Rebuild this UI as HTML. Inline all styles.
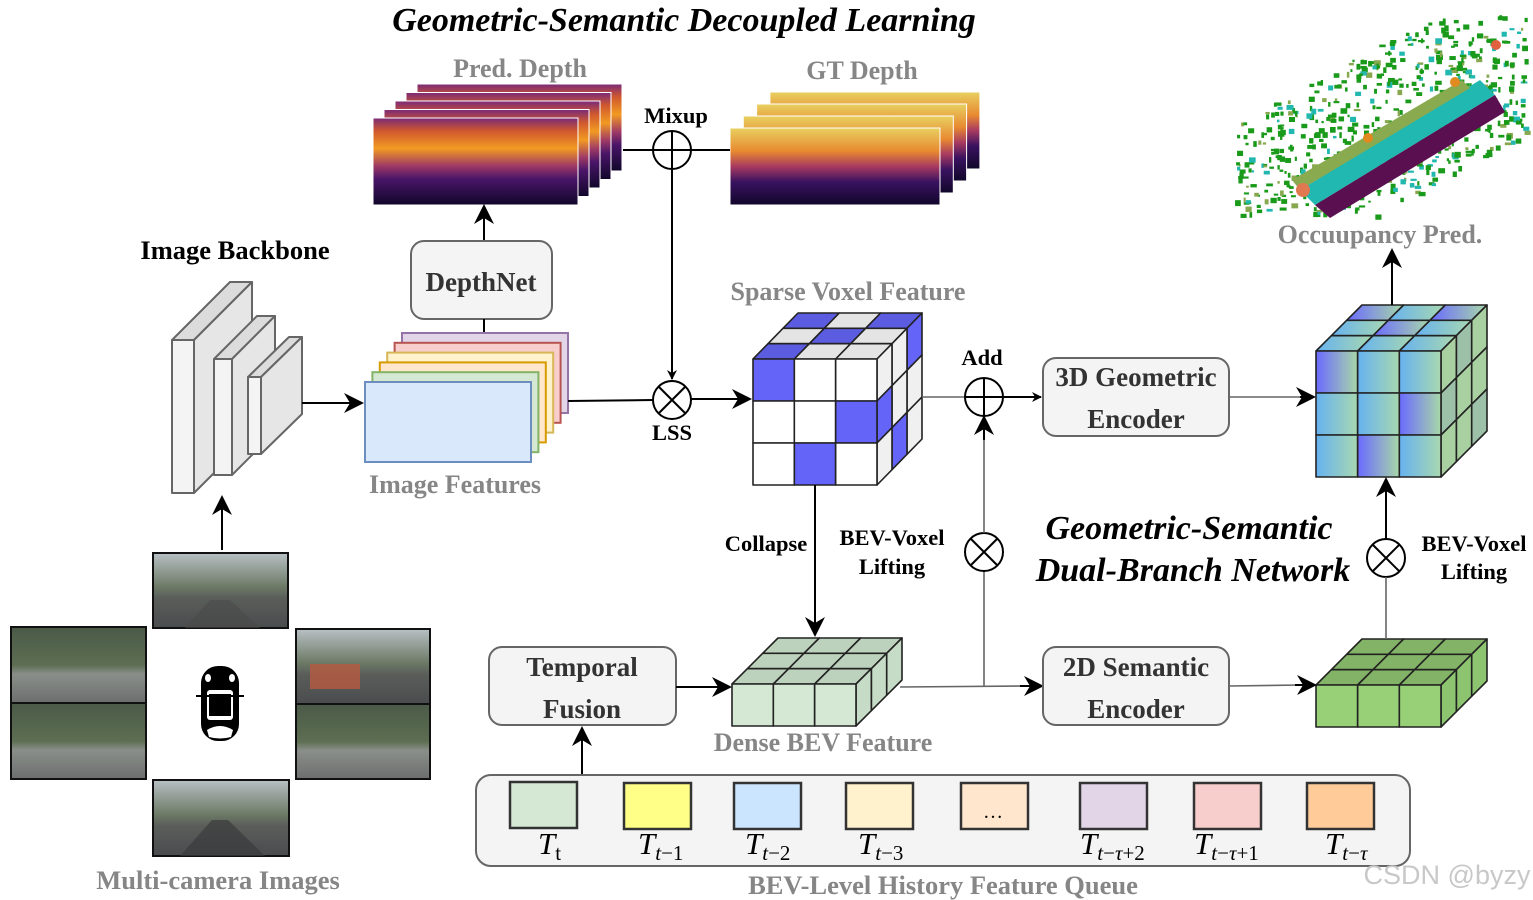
<!DOCTYPE html>
<html><head><meta charset="utf-8">
<style>
html,body{margin:0;padding:0;background:#fff;}
svg{display:block;}
.lb{font-family:"Liberation Serif",serif;font-weight:bold;}
.gray{fill:#868686;}
.bx{fill:#f4f4f4;stroke:#666;stroke-width:2;}
.bt{font-family:"Liberation Serif",serif;font-weight:bold;font-size:27px;fill:#333;text-anchor:middle;}
.ln{stroke:#000;stroke-width:2;fill:none;}
.lg{stroke:#666;stroke-width:1.6;fill:none;}
.tm{font-family:"Liberation Serif",serif;font-style:italic;font-size:31px;fill:#000;}
.sub{font-family:"Liberation Serif",serif;font-size:21px;font-style:normal;}
</style></head><body>
<svg id="s" width="1533" height="900" viewBox="0 0 1533 900" xmlns="http://www.w3.org/2000/svg">
<defs>
<marker id="a" viewBox="0 0 10 10" refX="9" refY="5" markerWidth="10" markerHeight="10" markerUnits="userSpaceOnUse" orient="auto"><path d="M0,0 L10,5 L0,10 L3,5 z" fill="#000"/></marker>
<marker id="A" viewBox="0 0 10 10" refX="9" refY="5" markerWidth="20" markerHeight="20" markerUnits="userSpaceOnUse" orient="auto"><path d="M0,0 L10,5 L0,10 L3,5 z" fill="#000"/></marker>
<linearGradient id="pd" x1="0" y1="0" x2="0" y2="1">
<stop offset="0" stop-color="#7a2a78"/><stop offset="0.15" stop-color="#d0582e"/><stop offset="0.35" stop-color="#f29a22"/><stop offset="0.55" stop-color="#a03a66"/><stop offset="0.7" stop-color="#4a1568"/><stop offset="1" stop-color="#10062a"/></linearGradient>
<linearGradient id="gd" x1="0" y1="0" x2="0" y2="1">
<stop offset="0" stop-color="#e8d060"/><stop offset="0.3" stop-color="#e88a30"/><stop offset="0.5" stop-color="#a83a60"/><stop offset="0.7" stop-color="#3a1260"/><stop offset="1" stop-color="#10062a"/></linearGradient>
<linearGradient id="gp" x1="0" y1="0" x2="1" y2="0"><stop offset="0" stop-color="#6a6aff"/><stop offset="1" stop-color="#a8d8a8"/></linearGradient>
<linearGradient id="gs" x1="0" y1="0" x2="1" y2="0"><stop offset="0" stop-color="#66b2f0"/><stop offset="1" stop-color="#a8d8b0"/></linearGradient>
<linearGradient id="cam" x1="0" y1="0" x2="0" y2="1"><stop offset="0" stop-color="#4a5a48"/><stop offset="0.5" stop-color="#5d6e52"/><stop offset="0.62" stop-color="#8a8f8a"/><stop offset="1" stop-color="#6c6e6e"/></linearGradient>
<linearGradient id="cam2" x1="0" y1="0" x2="0" y2="1"><stop offset="0" stop-color="#b8c0c4"/><stop offset="0.45" stop-color="#6d7a66"/><stop offset="0.6" stop-color="#5a5e5a"/><stop offset="1" stop-color="#4a4c4e"/></linearGradient>
</defs>

<text x="684" y="31" text-anchor="middle" font-family="Liberation Serif" font-weight="bold" font-style="italic" font-size="34">Geometric-Semantic Decoupled Learning</text>
<text x="520" y="77" text-anchor="middle" class="lb gray" font-size="26">Pred. Depth</text>
<text x="862" y="79" text-anchor="middle" class="lb gray" font-size="26">GT Depth</text>
<g id="depth"></g>

<line class="ln" x1="623" y1="150" x2="730" y2="150"/>
<circle cx="672" cy="150" r="19" fill="#fff" stroke="#000" stroke-width="2"/>
<line class="ln" x1="653" y1="150" x2="691" y2="150"/><line class="ln" x1="672" y1="131" x2="672" y2="169"/>
<text x="676" y="123" text-anchor="middle" class="lb" font-size="22.5">Mixup</text>
<line class="ln" x1="672" y1="169" x2="672" y2="379" marker-end="url(#a)"/>

<line class="ln" x1="484" y1="240" x2="484" y2="206" marker-end="url(#A)"/>
<rect class="bx" x="411" y="241" width="141" height="78" rx="13"/>
<text class="bt" x="481" y="291">DepthNet</text>
<line class="ln" x1="484" y1="319" x2="484" y2="334"/>

<g id="feat"></g>
<text x="455" y="493" text-anchor="middle" class="lb gray" font-size="26">Image Features</text>

<text x="235" y="259" text-anchor="middle" class="lb" font-size="26.5">Image Backbone</text>
<g stroke="#666" stroke-width="2" stroke-linejoin="round">
<polygon points="172,340 230,282 252,282 194,340" fill="#dcdcdc"/>
<polygon points="194,340 252,282 252,435 194,493" fill="#e6e6e6"/>
<rect x="172" y="340" width="22" height="153" fill="#f4f4f4"/>
<polygon points="214,359 257,316 275,316 232,359" fill="#dcdcdc"/>
<polygon points="232,359 275,316 275,432 232,475" fill="#e6e6e6"/>
<rect x="214" y="359" width="18" height="116" fill="#f4f4f4"/>
<polygon points="248,377 289,337 302,337 261,377" fill="#dcdcdc"/>
<polygon points="261,377 302,337 302,414 261,454" fill="#e6e6e6"/>
<rect x="248" y="377" width="13" height="77" fill="#f4f4f4"/>
</g>
<line class="ln" x1="302" y1="403" x2="362" y2="403" marker-end="url(#A)"/>
<line class="ln" x1="222" y1="550" x2="222" y2="497" marker-end="url(#A)"/>

<g stroke="#111" stroke-width="2">
<rect x="153" y="553" width="135" height="75" fill="url(#cam2)"/>
<rect x="11" y="627" width="135" height="76" fill="url(#cam)"/>
<rect x="11" y="703" width="135" height="76" fill="url(#cam)"/>
<rect x="296" y="629" width="134" height="75" fill="url(#cam2)"/>
<rect x="296" y="704" width="134" height="75" fill="url(#cam)"/>
<rect x="153" y="780" width="136" height="76" fill="url(#cam2)"/>
</g>
<polygon points="185,628 210,600 230,600 260,628" fill="#4a4a4a" opacity="0.6"/>
<polygon points="180,856 212,820 228,820 265,856" fill="#3a3a3c" opacity="0.7"/>
<rect x="310" y="664" width="50" height="25" fill="#b85a40" opacity="0.8"/>
<g>
<rect x="201" y="666" width="38" height="75" rx="17" fill="#000"/>
<rect x="207" y="690" width="26" height="30" fill="#fff" rx="3"/>
<rect x="209" y="694" width="22" height="22" fill="#000"/>
<ellipse cx="208" cy="678" rx="3" ry="4" fill="#fff"/><ellipse cx="232" cy="678" rx="3" ry="4" fill="#fff"/>
<path d="M207 730 Q220 722 233 730 L231 737 Q220 740 209 737z" fill="#fff"/>
<line x1="196" y1="696" x2="244" y2="696" stroke="#000" stroke-width="2"/>
</g>
<text x="218" y="889" text-anchor="middle" class="lb gray" font-size="26.5">Multi-camera Images</text>

<line class="ln" x1="568" y1="401" x2="653" y2="400"/>
<circle cx="672" cy="400" r="19" fill="#fff" stroke="#000" stroke-width="2"/>
<line class="ln" x1="659" y1="387" x2="685" y2="413"/><line class="ln" x1="685" y1="387" x2="659" y2="413"/>
<text x="672" y="440" text-anchor="middle" class="lb" font-size="22.5">LSS</text>
<line class="ln" x1="691" y1="399" x2="750" y2="399" marker-end="url(#A)"/>

<text x="848" y="300" text-anchor="middle" class="lb gray" font-size="26">Sparse Voxel Feature</text>
<g id="cubes"></g>

<line class="lg" x1="922" y1="397" x2="965" y2="397"/>
<circle cx="984" cy="397" r="19" fill="#fff" stroke="#000" stroke-width="2"/>
<line class="ln" x1="965" y1="397" x2="1003" y2="397"/><line class="ln" x1="984" y1="378" x2="984" y2="416"/>
<text x="982" y="365" text-anchor="middle" class="lb" font-size="22.5">Add</text>
<line class="ln" x1="1003" y1="397" x2="1041" y2="397" marker-end="url(#a)"/>
<rect class="bx" x="1043" y="358" width="186" height="78" rx="13"/>
<text class="bt" x="1136" y="386">3D Geometric</text>
<text class="bt" x="1136" y="428">Encoder</text>
<line class="lg" x1="1229" y1="397" x2="1312" y2="397"/>
<line class="ln" x1="1300" y1="397" x2="1314" y2="397" marker-end="url(#A)"/>

<line class="lg" x1="984" y1="687" x2="984" y2="571"/>
<circle cx="984" cy="552" r="19" fill="#fff" stroke="#000" stroke-width="2"/>
<line class="ln" x1="971" y1="539" x2="997" y2="565"/><line class="ln" x1="997" y1="539" x2="971" y2="565"/>
<line class="lg" x1="984" y1="533" x2="984" y2="430"/>
<line class="ln" x1="984" y1="440" x2="984" y2="417" marker-end="url(#A)"/>
<text x="892" y="545" text-anchor="middle" class="lb" font-size="22.5">BEV-Voxel</text>
<text x="892" y="574" text-anchor="middle" class="lb" font-size="22.5">Lifting</text>
<text x="766" y="551" text-anchor="middle" class="lb" font-size="22.5">Collapse</text>
<line class="ln" x1="815" y1="485" x2="815" y2="635" marker-end="url(#A)"/>

<text x="1189" y="539" text-anchor="middle" font-family="Liberation Serif" font-weight="bold" font-style="italic" font-size="34">Geometric-Semantic</text>
<text x="1193" y="581" text-anchor="middle" font-family="Liberation Serif" font-weight="bold" font-style="italic" font-size="34">Dual-Branch Network</text>

<line class="ln" x1="1392" y1="305" x2="1392" y2="250" marker-end="url(#A)"/>
<text x="1380" y="243" text-anchor="middle" class="lb gray" font-size="26">Occuupancy Pred.</text>
<line class="ln" x1="1386" y1="539" x2="1386" y2="479" marker-end="url(#A)"/>
<circle cx="1386" cy="558" r="19" fill="#fff" stroke="#000" stroke-width="2"/>
<line class="ln" x1="1373" y1="545" x2="1399" y2="571"/><line class="ln" x1="1399" y1="545" x2="1373" y2="571"/>
<line class="lg" x1="1386" y1="577" x2="1386" y2="639"/>
<text x="1474" y="551" text-anchor="middle" class="lb" font-size="22.5">BEV-Voxel</text>
<text x="1474" y="579" text-anchor="middle" class="lb" font-size="22.5">Lifting</text>
<g id="occ"></g>

<rect class="bx" x="489" y="647" width="187" height="78" rx="13"/>
<text class="bt" x="582" y="676">Temporal</text>
<text class="bt" x="582" y="718">Fusion</text>
<line class="ln" x1="676" y1="687" x2="730" y2="687" marker-end="url(#A)"/>
<line class="lg" x1="900" y1="687" x2="1030" y2="686"/>
<line class="ln" x1="1020" y1="686" x2="1042" y2="686" marker-end="url(#A)"/>
<text x="823" y="751" text-anchor="middle" class="lb gray" font-size="26">Dense BEV Feature</text>
<rect class="bx" x="1043" y="647" width="186" height="78" rx="13"/>
<text class="bt" x="1136" y="676">2D Semantic</text>
<text class="bt" x="1136" y="718">Encoder</text>
<line class="lg" x1="1229" y1="686" x2="1300" y2="685"/>
<line class="ln" x1="1295" y1="685" x2="1315" y2="685" marker-end="url(#A)"/>

<line class="ln" x1="582" y1="775" x2="582" y2="728" marker-end="url(#A)"/>
<rect class="bx" x="476" y="775" width="934" height="91" rx="15"/>
<g stroke="#333" stroke-width="2.5">
<rect x="510" y="782" width="67" height="46" fill="#d5e8d4"/>
<rect x="624" y="783" width="67" height="46" fill="#ffff88"/>
<rect x="734" y="783" width="67" height="46" fill="#cce5ff"/>
<rect x="846" y="783" width="67" height="46" fill="#fff2cc"/>
<rect x="961" y="783" width="67" height="46" fill="#ffe6cc"/>
<rect x="1080" y="783" width="67" height="46" fill="#e1d5e7"/>
<rect x="1194" y="783" width="67" height="46" fill="#f8cecc"/>
<rect x="1307" y="783" width="67" height="46" fill="#ffcc99"/>
</g>
<text x="993" y="818" text-anchor="middle" font-family="Liberation Serif" font-size="20">…</text>
<g class="tm">
<text x="538" y="854">T<tspan class="sub" dy="6" font-style="italic">t</tspan></text>
<text x="638" y="854">T<tspan class="sub" dy="6"><tspan font-style="italic">t</tspan>−1</tspan></text>
<text x="745" y="854">T<tspan class="sub" dy="6"><tspan font-style="italic">t</tspan>−2</tspan></text>
<text x="858" y="854">T<tspan class="sub" dy="6"><tspan font-style="italic">t</tspan>−3</tspan></text>
<text x="1080" y="854">T<tspan class="sub" dy="6"><tspan font-style="italic">t</tspan>−<tspan font-style="italic">τ</tspan>+2</tspan></text>
<text x="1194" y="854">T<tspan class="sub" dy="6"><tspan font-style="italic">t</tspan>−<tspan font-style="italic">τ</tspan>+1</tspan></text>
<text x="1325" y="854">T<tspan class="sub" dy="6"><tspan font-style="italic">t</tspan>−<tspan font-style="italic">τ</tspan></tspan></text>
</g>
<text x="943" y="894" text-anchor="middle" class="lb gray" font-size="26.5">BEV-Level History Feature Queue</text>
<text x="1447" y="884" text-anchor="middle" font-family="Liberation Sans" font-size="27" fill="#c8c8c8">CSDN @byzy</text>
</svg>
<script>
(function(){
var NS="http://www.w3.org/2000/svg";
function el(p,t,a){var e=document.createElementNS(NS,t);for(var k in a)e.setAttribute(k,a[k]);p.appendChild(e);return e;}
var D=document.getElementById("depth");
for(var i=4;i>=0;i--){el(D,"rect",{x:373+i*11,y:118-i*8.5,width:205,height:87,fill:"url(#pd)",stroke:"#fff","stroke-width":1});}
for(var i=3;i>=0;i--){el(D,"rect",{x:730+i*13.3,y:128-i*12,width:210,height:77,fill:"url(#gd)",stroke:"#fff","stroke-width":1});}
var F=document.getElementById("feat");
var fc=[["#e1d5e7","#9673a6"],["#f8cecc","#b85450"],["#fff2cc","#d6b656"],["#ffe6cc","#d79b00"],["#d5e8d4","#82b366"],["#dae8fc","#6c8ebf"]];
for(var i=0;i<6;i++){var k=5-i;el(F,"rect",{x:365+k*7.4,y:382-k*9.8,width:166,height:80,fill:fc[i][0],stroke:fc[i][1],"stroke-width":2});}
var C=document.getElementById("cubes");
function cube(x,y,w,h,nx,ny,nz,dx,dy,ff,tf,sf){
 var cw=w/nx,ch=h/ny,ex=dx/nz,ey=dy/nz;
 function P(pts,f){el(C,"polygon",{points:pts.map(function(p){return p[0]+","+p[1]}).join(" "),fill:f,stroke:"#222","stroke-width":1.6,"stroke-linejoin":"round"});}
 for(var k=nz-1;k>=0;k--)for(var i=0;i<nx;i++){var bx=x+i*cw+k*ex,by=y+k*ey;P([[bx,by],[bx+cw,by],[bx+cw+ex,by+ey],[bx+ex,by+ey]],tf(i,k));}
 for(var k=nz-1;k>=0;k--)for(var j=0;j<ny;j++){var bx=x+w+k*ex,by=y+j*ch+k*ey;P([[bx,by],[bx+ex,by+ey],[bx+ex,by+ey+ch],[bx,by+ch]],sf(j,k));}
 for(var j=0;j<ny;j++)for(var i=0;i<nx;i++){P([[x+i*cw,y+j*ch],[x+(i+1)*cw,y+j*ch],[x+(i+1)*cw,y+(j+1)*ch],[x+i*cw,y+(j+1)*ch]],ff(i,j));}
}
var B="#6464f8",BT="#5c5ce0",L="#e4e4e4",W="#fff",S="#f0f0f0";
var fr=[[B,W,W],[W,W,B],[W,B,W]],tp=[[B,L,L],[L,B,L],[B,L,B]],sd=[[S,B,S],[S,S,B],[B,S,S]];
cube(753,359,124,126,3,3,3,45,-46,function(i,j){return fr[j][i]},function(i,k){return tp[k][i]==B?BT:L},function(j,k){return sd[k][j]});
cube(732,684,124,42,3,1,3,46,-46,function(){return "#d5e8d4"},function(){return "#bdd2bc"},function(){return "#c7dcc6"});
cube(1316,685,125,42,3,1,3,46,-46,function(){return "#97d077"},function(){return "#82b366"},function(){return "#8cc470"});
var gf=[["url(#gp)","url(#gs)","url(#gs)"],["url(#gs)","url(#gs)","url(#gp)"],["url(#gs)","url(#gp)","url(#gs)"]];
var gt=[["url(#gs)","url(#gs)","url(#gs)"],["url(#gs)","url(#gp)","url(#gs)"],["url(#gp)","url(#gs)","url(#gp)"]];
cube(1316,351,125,126,3,3,3,46,-46,function(i,j){return gf[j][i]},function(i,k){return gt[k][i]},function(j,k){return (j+k)%3==1?"#9cc0a8":"#a8d0a0"});
var O=document.getElementById("occ");
var sd2=7;function r(){sd2=(sd2*9301+49297)%233280;return sd2/233280;}
for(var n=0;n<900;n++){var t=r(),u=r();var px=1235+t*290,py=15+u*200;
 var dl=(py-(200-(px-1250)*0.55));
 if(Math.abs(dl)>85)continue;
 var c=r()<0.72?"#1a9a1a":(r()<0.5?"#22b8b0":"#88a850");
 el(O,"rect",{x:px,y:py,width:2+r()*5,height:2+r()*4,fill:c});}
el(O,"polygon",{points:"1300,190 1480,80 1495,95 1315,205",fill:"#20b8b0"});
el(O,"polygon",{points:"1315,205 1495,95 1505,112 1330,218",fill:"#5a0f50"});
el(O,"polygon",{points:"1300,190 1470,88 1462,80 1292,180",fill:"#8aaa50"});
el(O,"circle",{cx:1303,cy:190,r:7,fill:"#e07850"});
el(O,"circle",{cx:1368,cy:138,r:5,fill:"#e08a20"});
el(O,"circle",{cx:1455,cy:82,r:5,fill:"#e08a20"});
el(O,"circle",{cx:1496,cy:45,r:5,fill:"#e06040"});
})();
</script>
</body></html>
